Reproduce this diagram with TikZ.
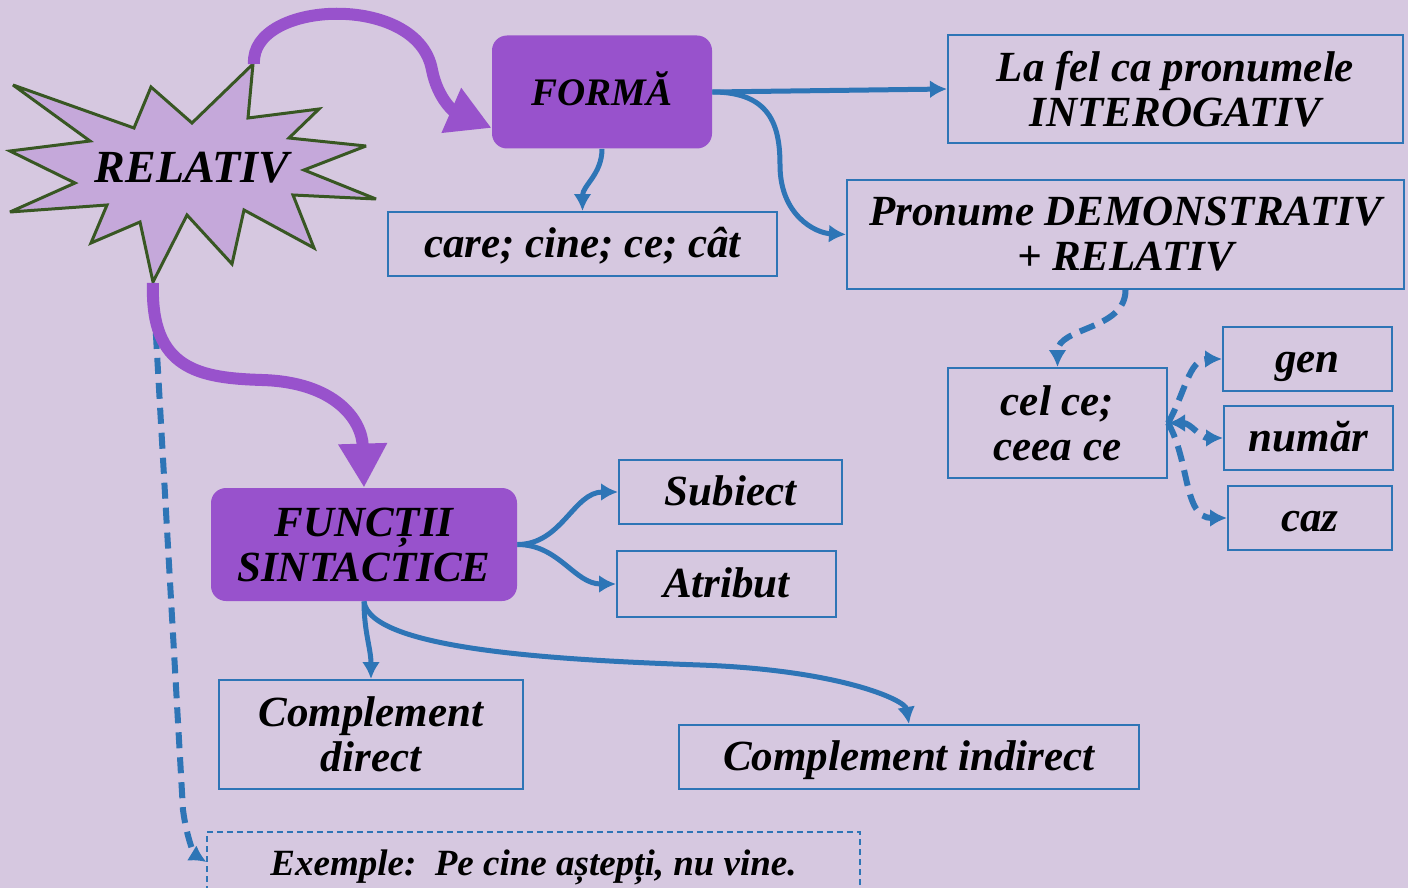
\documentclass[tikz,border=0pt]{standalone}
\usepackage{fontspec}
\setmainfont{Liberation Serif}
\usetikzlibrary{arrows.meta}
\definecolor{bgviolet}{RGB}{214,200,224}
\definecolor{formpurple}{RGB}{152,82,204}
\definecolor{starfill}{RGB}{197,168,218}
\definecolor{stargreen}{RGB}{56,87,35}
\definecolor{lineblue}{RGB}{46,117,182}
\newcommand{\boxfont}{\fontsize{21.5}{22.5}\selectfont\bfseries\itshape}

\tikzset{
  pbox/.style={fill=formpurple,rounded corners=7.5pt,align=center,inner sep=0pt,font=\boxfont},
  bbox/.style={draw=lineblue,line width=1pt,align=center,inner sep=0pt,font=\boxfont},
  oneline/.style={text height=19pt,text depth=6pt},
  blueline/.style={-{Latex[length=8.5pt,width=9pt]},line width=2.5pt,draw=lineblue},
  bluedash/.style={blueline,line width=3pt,dash pattern=on 8pt off 4.5pt},
  purplearrow/.style={-{Triangle[length=22pt,width=23pt]},line width=6pt,draw=formpurple},
}

\begin{document}
\begin{tikzpicture}[x=0.5pt,y=-0.5pt]

% background
\clip (0,0) rectangle (1408,888);
\fill [bgviolet] (0,0) rectangle (1408,888);

% star
\filldraw [fill=starfill,draw=stargreen,line width=1.5pt,miter limit=4]
  (13,85) -- (134,128) -- (151,87) -- (192,123) -- (253,64) -- (248,118) -- (319,109) -- (289,138)
  -- (366,146) -- (304,170) -- (376,199) -- (293,195) -- (314,248) -- (244,210) -- (232,264) -- (187,215)
  -- (153,282) -- (140,222) -- (91,243) -- (107,205) -- (10,212) -- (75,183) -- (10,151) -- (90,141) -- cycle;
\node (relativ) at (192,168) [font=\fontsize{23}{25}\selectfont\bfseries\itshape] {RELATIV};
\coordinate (startop) at (254,64);
\coordinate (starbot) at (153,283);

% form boxes
\node (forma) at (602,92) [pbox,oneline,minimum width=110pt,minimum height=56.5pt,font=\fontsize{19.5}{22}\selectfont\bfseries\itshape] {FORMĂ};
\node (care) at (582.5,244) [bbox,oneline,minimum width=194.5pt,minimum height=32pt] {care; cine; ce; cât};
\node (lafel) at (1175.5,89) [bbox,minimum width=227.5pt,minimum height=54pt] {La fel ca pronumele\\INTEROGATIV};
\node (pronume) at (1125.5,234.5) [bbox,minimum width=278.5pt,minimum height=54.5pt] {Pronume DEMONSTRATIV\\+ RELATIV};
\node (celce) at (1057.5,423) [bbox,minimum width=109.5pt,minimum height=55pt] {cel ce;\\ceea ce};
\node (gen) at (1307.5,359) [bbox,oneline,minimum width=84.5pt,minimum height=32pt] {gen};
\node (numar) at (1308.5,438) [bbox,oneline,minimum width=84.5pt,minimum height=32pt] {număr};
\node (caz) at (1310,518) [bbox,oneline,minimum width=82pt,minimum height=32pt] {caz};

% function boxes
\node (functii) at (364,544.5) [pbox,minimum width=153pt,minimum height=56.5pt] {FUNCȚII\\SINTACTICE};
\node (subiect) at (730.5,492) [bbox,oneline,minimum width=111.5pt,minimum height=32pt] {Subiect};
\node (atribut) at (726.5,584) [bbox,oneline,minimum width=109.5pt,minimum height=33pt] {Atribut};
\node (cdirect) at (371,734.5) [bbox,minimum width=152pt,minimum height=54.5pt] {Complement\\direct};
\node (cindirect) at (909,757) [bbox,oneline,minimum width=230pt,minimum height=32pt] {Complement indirect};
\node (exemple) at (533.5,862) [bbox,oneline,densely dashed,line width=0.6pt,minimum width=326.5pt,minimum height=30pt,font=\fontsize{18.5}{20}\selectfont\bfseries\itshape] {Exemple:\ \ Pe cine aștepți, nu vine.};

% links from the star
\draw [bluedash] (starbot) -- (183,810) .. controls (187,840) and (195,855) .. (exemple.west);
\draw [purplearrow] (startop) .. controls (250,0) and (418,-8) .. (432,70) .. controls (438,100) and (455,112) .. ([yshift=-18pt]forma.west);
\draw [purplearrow] (starbot) .. controls (150,370) and (200,378) .. (262,380) .. controls (335,382) and (362,420) .. (functii.north);

% links from FORMA
\draw [blueline] (forma.east) -- (lafel.west);
\draw [blueline] (forma.east) .. controls (770,92) and (780,125) .. (780,165) .. controls (780,215) and (815,233) .. (pronume.west);
\draw [blueline] (forma.south) to [out=-90,in=90] (care.north);
\draw [bluedash] (pronume.south) to [out=-90,in=90] (celce.north);
\draw [bluedash] (celce.east) to [out=60,in=180] (gen.west);
\draw [bluedash,{Latex[length=8.5pt,width=9pt]}-{Latex[length=8.5pt,width=9pt]}] (celce.east) to [out=0,in=180] (numar.west);
\draw [bluedash] (celce.east) to [out=-60,in=180] (caz.west);

% links from FUNCTII
\draw [blueline] (functii.east) to [out=0,in=180] (subiect.west);
\draw [blueline] (functii.east) to [out=0,in=180] (atribut.west);
\draw [blueline] (functii.south) to [out=-90,in=90] (cdirect.north);
\draw [blueline] (functii.south) .. controls (370,650) and (560,660) .. (700,665) .. controls (840,670) and (905,700) .. (cindirect.north);

\end{tikzpicture}
\end{document}
